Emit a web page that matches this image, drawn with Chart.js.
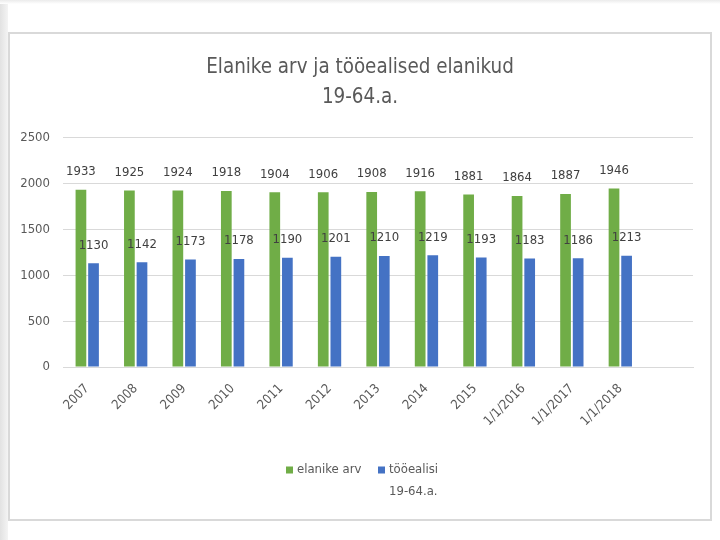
<!DOCTYPE html>
<html>
<head>
<meta charset="utf-8">
<script src="https://cdn.jsdelivr.net/npm/chart.js@4.4.0/dist/chart.umd.min.js"></script>
<style>
  html, body { margin: 0; padding: 0; background: #ffffff; width: 720px; height: 540px; overflow: hidden; }
  #leftStrip { position: absolute; left: 0; top: 0; width: 8px; height: 540px; background: linear-gradient(to right, #e2e2e2, #f4f4f4); }
  #topStrip { position: absolute; left: 0; top: 0; width: 720px; height: 4px; background: linear-gradient(to bottom, #ebebeb, #ffffff); }
  #box { position: absolute; left: 8px; top: 32px; width: 700px; height: 485px; border: 2px solid #d9d9d9; background: #fff; }
  #wrap { position: absolute; left: 0; top: 0; width: 700px; height: 485px; }
</style>
</head>
<body>
<div id="leftStrip"></div>
<div id="topStrip"></div>
<div id="box"><div id="wrap"><canvas id="c"></canvas></div></div>
<script>
const categories = ['2007','2008','2009','2010','2011','2012','2013','2014','2015','1/1/2016','1/1/2017','1/1/2018',''];
const elanikeArv = [1933,1925,1924,1918,1904,1906,1908,1916,1881,1864,1887,1946,null];
const tooealisi = [1130,1142,1173,1178,1190,1201,1210,1219,1193,1183,1186,1213,null];
const yTicks = [0,500,1000,1500,2000,2500];
const seriesNames = [['elanike arv'], ['tööealisi','19-64.a.']];
const titleLines = ['Elanike arv ja tööealised elanikud','19-64.a.'];

const FONT = "'DejaVu Sans Condensed','DejaVu Sans',sans-serif";
const TXT = '#595959';

const valueLabels = {
  id: 'valueLabels',
  afterDatasetsDraw(chart) {
    const ctx = chart.ctx;
    ctx.save();
    ctx.font = '13px ' + FONT;
    ctx.fillStyle = '#404040';
    ctx.textAlign = 'center';
    ctx.textBaseline = 'middle';
    chart.data.datasets.forEach((ds, di) => {
      const meta = chart.getDatasetMeta(di);
      meta.data.forEach((bar, i) => {
        const v = ds.data[i];
        if (v === null || v === undefined) return;
        ctx.fillText(String(v), bar.x, bar.y - 18);
      });
    });
    ctx.restore();
  }
};

// Legend drawn below the axis (second entry wraps onto two lines)
const legendBoxX = [276, 368];
const bottomLegend = {
  id: 'bottomLegend',
  afterDraw(chart) {
    const ctx = chart.ctx;
    ctx.save();
    ctx.font = '13px ' + FONT;
    ctx.textBaseline = 'middle';
    ctx.textAlign = 'left';
    const box = 7, gapBox = 4, lineH = 22, y = 436;
    chart.data.datasets.forEach((ds, i) => {
      const x = legendBoxX[i];
      ctx.fillStyle = ds.backgroundColor;
      ctx.fillRect(x, y - box / 2, box, box);
      ctx.fillStyle = TXT;
      seriesNames[i].forEach((line, li) => {
        ctx.fillText(line, x + box + gapBox, y + li * lineH);
      });
    });
    ctx.restore();
  }
};

new Chart(document.getElementById('c'), {
  type: 'bar',
  data: {
    labels: categories,
    datasets: [
      { label: 'elanike arv', data: elanikeArv, backgroundColor: '#70AD47', categoryPercentage: 0.52, barPercentage: 0.85 },
      { label: 'tööealisi 19-64.a.', data: tooealisi, backgroundColor: '#4472C4', categoryPercentage: 0.52, barPercentage: 0.85 }
    ]
  },
  options: {
    responsive: true,
    maintainAspectRatio: false,
    animation: false,
    layout: { padding: { left: 0, right: 0, top: 0, bottom: 72 } },
    plugins: {
      title: {
        display: true,
        text: titleLines,
        color: TXT,
        font: { family: FONT, size: 20.4, weight: 'normal', lineHeight: 1.5 },
        padding: { top: 18, bottom: 24.5 }
      },
      legend: { display: false },
      tooltip: { enabled: false }
    },
    scales: {
      x: {
        grid: { display: false, drawTicks: false },
        border: { display: true, color: '#d9d9d9', width: 1 },
        ticks: { color: TXT, font: { family: FONT, size: 13 }, maxRotation: 45, minRotation: 45, autoSkip: false, padding: 14 },
        afterFit(scale) { scale.height = 80; }
      },
      y: {
        min: 0, max: 2500,
        afterBuildTicks(scale) { scale.ticks = yTicks.map(v => ({ value: v })); },
        afterFit(scale) { scale.width = 53; },
        grid: { color: '#d9d9d9', drawTicks: false },
        border: { display: false },
        ticks: { color: TXT, font: { family: FONT, size: 13 }, padding: 13, callback: (v) => String(v) }
      },
      yRight: {
        type: 'linear',
        position: 'right',
        display: true,
        grid: { display: false, drawTicks: false },
        border: { display: false },
        ticks: { display: false },
        afterFit(scale) { scale.width = 17; }
      }
    }
  },
  plugins: [valueLabels, bottomLegend]
});
</script>
</body>
</html>
